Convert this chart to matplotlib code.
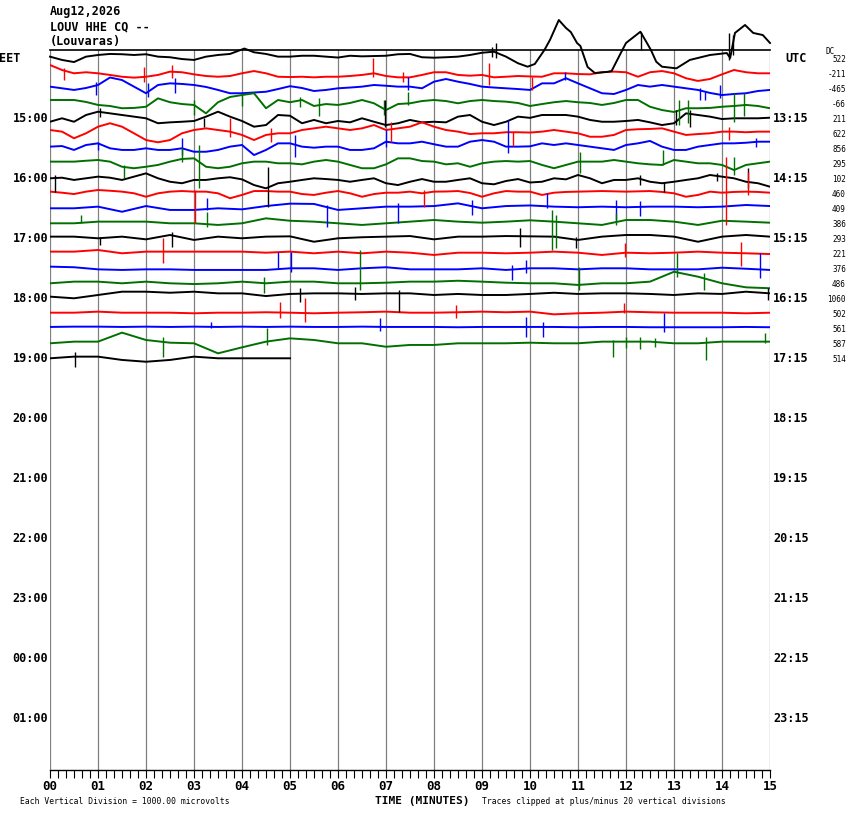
# helicorder LOUV HHE - 12 Aug 2026, 15 min per riadok
import numpy as np
import matplotlib
matplotlib.use("Agg")
import matplotlib.pyplot as plt
from matplotlib.ticker import MultipleLocator

W, H = 850, 814
UV_PER_DIV = 1000.0
N_ROWS = 48
COLORS = ["#000000", "#ff0000", "#0000ff", "#007000"]
MONO = "DejaVu Sans Mono"

TITLE_LINES = ["Aug12,2026", "LOUV HHE CQ --", "(Louvaras)"]
MINUTE_LABELS = [f"{m:02d}" for m in range(16)]
LEFT_LABELS = ["EET", "15:00", "16:00", "17:00", "18:00", "19:00", "20:00",
               "21:00", "22:00", "23:00", "00:00", "01:00"]
RIGHT_LABELS = ["UTC", "13:15", "14:15", "15:15", "16:15", "17:15", "18:15",
                "19:15", "20:15", "21:15", "22:15", "23:15"]
DC_VALUES = [522, -211, -465, -66, 211, 622, 856, 295, 102, 460, 409, 386,
             293, 221, 376, 486, 1060, 502, 561, 587, 514]
LAST_TRACE_END = 5.0

# prvy riadok (14:00) - vlastne casy, velke vychylky
TOP_MIN = [0, 0.25, 0.5, 0.75, 1, 1.25, 1.5, 1.75, 2, 2.25, 2.5, 2.75, 3, 3.25, 3.5, 3.75,
           4.05, 4.25, 4.5, 4.75,
           5, 5.25, 5.5, 5.75, 6, 6.25, 6.5, 6.75, 7, 7.25, 7.5, 7.75, 8, 8.25, 8.5, 8.75,
           9, 9.25, 9.5, 9.75,
           9.95, 10.1, 10.3, 10.42, 10.6, 10.75, 10.85, 10.98, 11.05, 11.2, 11.35, 11.6, 11.7, 11.85,
           12.0, 12.3, 12.42, 12.52, 12.63, 12.75, 13.05, 13.33, 13.75,
           14.1, 14.17, 14.27, 14.48, 14.65, 14.85, 15]
TOP_UV = [90, -130, -270, 90, 200, 270, 250, 200, 250, 90, 50, -70, -130, 90, 200, 270,
          630, 380, 270, 90,
          90, 150, 150, 90, 30, 150, 110, 130, 150, 250, 270, 50, 20, 50, 90, 200,
          350, 420, 90, -350,
          -580, -400, 530, 1230, 2530, 2000, 1730, 1000, 800, -600, -1000, -930, -870, 70,
          1000, 1750, 1090, 530, -250, -580, -690, -130, 200,
          330, 0, 1670, 2200, 1670, 1530, 1000]

# ostatne riadky - rovnomerne vzorky v mikrovoltoch
TRACE_01 = [530, 200, -20, 50, -20, -130, -250, -310, -250, -130, 90, 50, -90, -200, -250, -200,
            -20, 130, -20, -250, -270,
            -250, -290, -250, -250, -200, -130, -20, -200, -290, -290, -130, 50, 50, -130, -180,
            -130, -290, -250, -200, -230,
            -250, -20, -20, -70, -90, 50, 90, 50, -250, 50, 130, -20, -350, -530, -400, -90,
            200, 50, -20, -20]
TRACE_02 = [90, -20, -130, 0, 200, 700, 530, 90, -350, 200, 310, 270, 200, 70, -130, -350,
            -350, -300, -250, -70, 120, 0, -200, -130, -20, 30, 90, 200, 150, 90, 90, -20,
            420, 600, 420, 270, 90, 30, -20, -70, -130, 310, 310, 650, 310, -20, -350, -400,
            -130, 200, 90, 200, 90, -20, -130, -330, -470, -400, -350, -200, -130]
TRACE_03 = [200, 200, 200, 70, -130, -200, -350, -330, -250, 310, 50, -70, -130, -690, 50, 400,
            530, 650, -350, 200, 50, 200, -200, -70, -130, 0, 200, -20, -470, -70, -20, 130,
            200, 130, -20, 130, 200, 130, 90, 0, -200, -70, 50, 130, 50, 0, -130, 0, 200, 200,
            -250, -470, -600, -350, -350, -330, -250, -200, -130, -200, -350]
TRACE_04 = [-250, -20, -250, 200, 420, 310, 200, 90, -20, -350, -290, -250, -200, 90, 420, 90,
            -200, -580, -470, 200, 150,
            -350, -130, -350, -200, -290, -20, -250, -470, -350, -130, -290, -250, -290, 90, 200,
            -250, -470, -250, 90, 10,
            200, 200, 200, 90, -130, -250, -250, -200, -130, -290, -470, -350, 310, 200, 90,
            -70, -20, -20, -20, 20]
TRACE_05 = [200, 90, -350, -20, 420, 650, 420, -20, -470, -620, -470, -20, 200, 310, 200, 90,
            -130, -470, -130, -20, -20,
            200, 310, 420, 310, 200, 310, 530, 200, 310, 420, 710, 420, 200, 90, -70, -20, -20,
            50, 50, 30,
            90, 200, 90, -20, -250, -250, -130, 200, 250, 270, 310, 90, -130, -70, -20, 90, 90,
            50, 90, 90]
TRACE_06 = [90, 130, -130, 200, 310, -20, -130, -130, -20, -130, -130, -20, -250, -250, -130, 90,
            200, -470, -130, 310, 310,
            90, 20, 90, 90, -130, -130, -20, 420, 310, 310, 420, 250, 90, 90, 420, 530, 420, 90,
            90, 110,
            310, 200, 310, 200, 90, -20, -130, 200, 310, 470, 90, -130, -130, 90, 200, 310, 310,
            350, 420, 420]
TRACE_07 = [90, 90, 90, 150, 200, 90, -250, -350, -250, -130, 90, 270, 310, -250, -350, -250,
            -20, 90, 90, -20, -20,
            -90, 90, 200, 90, -130, -350, -350, -90, 310, 310, 130, 90, -90, -20, -250, -20, 90,
            130, 90, 130,
            -130, -350, -130, 90, 90, 90, 200, 90, -20, -90, -130, 200, 90, -20, -20, -130, -470,
            -130, -20, 90]
TRACE_08 = [-20, 20, -130, -20, 90, 20, -130, 90, 310, -20, -250, -350, -130, -130, -20, 50,
            -90, -470, -690, -350, -250,
            -130, -20, -70, -130, -250, -130, -20, -350, -470, -250, -70, -250, -250, -130, -20,
            -350, -420, -200, -70, -300,
            -250, -20, -90, 200, -20, -350, -130, -130, -20, -250, -350, -250, -130, -20, 200,
            90, -20, -250, -350, -580]
TRACE_09 = [90, 20, -70, 90, 200, 150, 90, -20, -250, -20, 90, 130, 90, 90, -20, -350,
            -130, 130, 130, 90, 90,
            -70, -130, 20, 130, -20, -250, -70, 20, 20, 90, -20, 90, 100, 130, 0, -250, -20, 130,
            90, 90,
            -130, 20, 70, 90, 110, 130, 110, 90, 110, 130, 70, -20, -250, -130, 90, 20, 70, 90,
            70, 20]
TRACE_10 = [-20, -20, 90, -250, 130, -130, -130, -20, -90, 130, 290, 270, -130, -20, 90, 90,
            130, 310, -20, 130, 170, 90, 50, 90, 50, 90, 90, 50, 90, 200, 130]
TRACE_11 = [-20, -20, 90, 90, 90, -20, -20, -130, -20, 310, 150, 90, -20, -130, -20, 90,
            200, 90, 20, 90, 180, 90, -20, -130, 200, 200, 90, -130, 150, 90, 20]
TRACE_12 = [90, 90, -20, 90, -90, 200, -130, 90, -20, 90, 110, -250, -20, 50, 90, 130,
            -90, 90, 90, 130, 110, 90, -130, 90, 200, 200, 90, -250, 90, 200, 90]
TRACE_13 = [90, 90, 200, -20, 90, 90, 90, 90, 90, 20, 90, -20, 90, -20, 90, 20,
            -130, 20, 20, -20, 20, 90, 20, -130, 20, -20, 20, 90, 20, -20, -70]
TRACE_14 = [90, 50, -90, -130, -90, -90, -130, -130, -130, -130, -20, -20, -130, -20, 50, -90,
            -90, -90, -20, -130, -20, -20, -90, -20, -20, -90, -90, -90, 20, -50, -130]
TRACE_15 = [-20, 90, 90, -20, 90, -20, -70, -20, 90, -20, 90, 90, -20, -20, 20, 90,
            90, 150, 90, 20, -20, -20, -130, -20, -20, 90, 750, 420, -20, -290, -350]
TRACE_16 = [90, -20, 200, 420, 420, 350, 420, 310, 310, 130, 270, 310, 310, 270, 310, 310,
            200, 270, 200, 200, 270, 350, 270, 310, 310, 270, 200, 310, 270, 420, 310]
TRACE_17 = [20, 20, 90, 20, 20, 20, -20, 20, 20, 50, 20, -20, 20, 50, 90, 20,
            20, 50, 90, 50, 90, -90, -20, 20, 90, 50, 20, 20, 20, -20, 20]
TRACE_18 = [70, 90, 90, 70, 90, 70, 90, 70, 90, 70, 90, 70, 70, 90, 70, 70,
            70, 50, 70, 70, 70, 70, 50, 70, 70, 50, 50, 50, 50, 70, 50]
TRACE_19 = [-20, 90, 90, 690, 200, 20, -20, -690, -290, 90, 310, 200, -20, -20, -250, -130,
            -130, -20, -20, -20, 20, -20, -20, 90, 90, 90, -20, -20, 90, 90, 90]
TRACE_20 = [-20, 90, 90, -130, -250, -130, 90, -20, -20, -20, -20]

# vyrazne spicky: riadok, minuta, horny a dolny koniec (uV od nuly riadku)
SPIKE_ROW = [0, 0, 0, 0, 0,
             1, 1, 1, 1, 1, 1, 1,
             2, 2, 2, 2, 2, 2, 2, 2,
             3, 3, 3, 3, 3, 3, 3, 3, 3, 3,
             4, 4, 4, 4, 4,
             5, 5, 5, 5, 5,
             6, 6, 6, 6, 6, 6,
             7, 7, 7, 7, 7, 7,
             8, 8, 8, 8, 8, 8,
             9, 9, 9, 9,
             10, 10, 10, 10, 10, 10, 10,
             11, 11, 11, 11, 11,
             12, 12, 12, 12,
             13, 13, 13,
             14, 14, 14, 14, 14,
             15, 15, 15, 15, 15,
             16, 16, 16, 16,
             17, 17, 17, 17,
             18, 18, 18, 18, 18,
             19, 19, 19, 19, 19, 19, 19, 19,
             20]
SPIKE_MIN = [9.2, 9.3, 12.32, 14.15, 14.22,
             0.3, 1.95, 2.55, 6.73, 7.35, 9.15, 10.05,
             0.95, 2.05, 2.6, 7.45, 10.73, 13.55, 13.65, 13.95,
             3.0, 4.0, 5.2, 5.6, 6.95, 7.45, 13.1, 13.3, 14.25, 14.45,
             1.05, 3.2, 6.97, 13.05, 13.33,
             3.75, 4.6, 7.1, 9.64, 14.15,
             1.0, 2.75, 5.1, 7.0, 9.55, 14.7,
             1.55, 2.75, 3.1, 11.05, 12.77, 14.25,
             0.1, 4.55, 12.3, 12.8, 13.9, 14.55,
             3.02, 7.8, 14.08, 14.55,
             3.27, 5.77, 7.25, 8.8, 10.35, 11.8, 12.3,
             0.65, 3.27, 10.45, 10.55, 11.8,
             1.05, 2.55, 9.8, 10.95,
             2.35, 11.97, 14.4,
             4.75, 5.02, 9.63, 9.92, 14.8,
             4.45, 6.45, 11.03, 13.07, 13.63,
             5.2, 6.35, 7.28, 14.95,
             4.8, 5.32, 8.45, 11.95,
             3.35, 6.87, 9.92, 10.27, 12.8,
             2.36, 4.52, 11.72, 12.0, 12.3, 12.6, 13.67, 14.9,
             0.52]
SPIKE_HI = [700, 1000, 1750, 1670, 1500,
            330, 420, 530, 1020, 90, 690, -250,
            420, 310, 650, 750, 1090, -20, -250, 200,
            200, 530, 420, 310, 200, 750, 200, 200, 650, 650,
            670, 0, 1200, 530, 530,
            980, 310, 750, 90, 420,
            420, 650, 870, 1200, 1870, 650,
            -130, 980, 1200, 750, 870, 420,
            200, 750, 200, -250, 300, 650,
            200, 200, 2400, 1420,
            650, 200, 310, 530, 980, 530, 450,
            530, 750, 870, 530, 650,
            90, 420, 650, 90,
            980, 650, 750,
            1070, 1090, 200, 530, 980,
            420, 2200, 1090, 1980, 650,
            650, 750, 530, 650,
            750, 980, 530, 650,
            420, 650, 750, 420, 980,
            420, 980, 200, 400, 420, 350, 420, 650,
            420]
SPIKE_LO = [50, 0, 530, -130, 200,
            -470, -580, -350, -250, -580, -800, -1130,
            -470, -580, -350, -130, 530, -800, -800, -690,
            -800, -200, -250, -900, -800, -130, -1470, -1330, -1250, -900,
            90, -580, -580, -470, -580,
            -250, -580, -580, -900, -470,
            -130, -470, -580, 90, -350, 90,
            -1020, 90, -1690, -690, -130, -800,
            -910, -1910, -470, -910, -200, -670,
            -2020, -910, -2130, -130,
            -130, -1250, -1020, -470, 0, -800, -550,
            0, -250, -1800, -1670, -130,
            -470, -580, -580, -690,
            -690, -250, -900,
            -20, -250, -800, -350, -690,
            -690, -470, -470, 420, -470,
            -250, -130, -910, -130,
            -350, -580, -350, 0,
            -20, -200, -580, -580, -250,
            -910, -130, -910, -350, -400, -300, -1130, -20,
            -580]

TRACES = [TRACE_01, TRACE_02, TRACE_03, TRACE_04, TRACE_05, TRACE_06, TRACE_07,
          TRACE_08, TRACE_09, TRACE_10, TRACE_11, TRACE_12, TRACE_13, TRACE_14,
          TRACE_15, TRACE_16, TRACE_17, TRACE_18, TRACE_19, TRACE_20]


def fig_text(x, y, s, **kw):
    # pozicia v pixeloch obrazka
    kw.setdefault("family", MONO)
    kw.setdefault("va", "center")
    fig.text(x / W, 1 - y / H, s, **kw)


fig = plt.figure(figsize=(W / 100, H / 100), dpi=100)
ax = fig.add_axes([50 / W, 1 - 770 / H, 720 / W, 720 / H])
ax.set_xlim(0, 15)
ax.set_ylim(47.467, -0.533)

for m in range(16):
    ax.axvline(m, color="#808080", lw=0.9, zorder=0)

# stopy
ax.plot(TOP_MIN, -np.array(TOP_UV) / UV_PER_DIV, color=COLORS[0], lw=1.4,
        clip_on=False, zorder=3)
for i, tr in enumerate(TRACES, start=1):
    end = LAST_TRACE_END if i == len(TRACES) else 15.0
    t = np.linspace(0, end, len(tr))
    ax.plot(t, i - np.array(tr) / UV_PER_DIV, color=COLORS[i % 4], lw=1.4, zorder=2)

rows = np.array(SPIKE_ROW)
ax.vlines(SPIKE_MIN, rows - np.array(SPIKE_HI) / UV_PER_DIV,
          rows - np.array(SPIKE_LO) / UV_PER_DIV,
          colors=[COLORS[r % 4] for r in SPIKE_ROW], lw=1.0, zorder=2, clip_on=False)

for side in ("left", "right"):
    ax.spines[side].set_visible(False)
ax.spines["top"].set_linewidth(1.2)
ax.spines["bottom"].set_linewidth(1.0)

ax.set_yticks([])
ax.set_xticks(range(16), labels=MINUTE_LABELS)
ax.xaxis.set_minor_locator(MultipleLocator(1 / 6))
ax.tick_params(axis="x", which="both", direction="out", length=5.8, width=0.8,
               color="black", pad=1.5)
for lab in ax.get_xticklabels():
    lab.set_family(MONO)
    lab.set_fontweight("bold")
    lab.set_fontsize(9)

# texty
for k, line in enumerate(TITLE_LINES):
    fig_text(50, 12 + 15 * k, line, fontsize=8.5, fontweight="bold")

for k, lab in enumerate(LEFT_LABELS):
    y = 58 + 60 * k
    if k == 0:
        fig_text(-1, y, lab, fontsize=8.5, fontweight="bold", ha="left")
    else:
        fig_text(48, y + 1, lab, fontsize=8.5, fontweight="bold", ha="right")

for k, lab in enumerate(RIGHT_LABELS):
    y = 58 + 60 * k
    if k == 0:
        fig_text(785, y, lab, fontsize=8.5, fontweight="bold", ha="left")
    else:
        fig_text(773, y + 1, lab, fontsize=8.5, fontweight="bold", ha="left")

fig_text(826, 51, "DC", fontsize=5.5, ha="left")
for k, dc in enumerate(DC_VALUES):
    fig_text(846, 59.5 + 15 * k, str(dc), fontsize=5.5, ha="right")

fig_text(422, 801, "TIME (MINUTES)", fontsize=8, fontweight="bold", ha="center")
fig_text(20, 801, "Each Vertical Division = 1000.00 microvolts", fontsize=5.8, ha="left")
fig_text(482, 801, "Traces clipped at plus/minus 20 vertical divisions", fontsize=5.8, ha="left")

fig.savefig("out.png", dpi=100, facecolor="white")
